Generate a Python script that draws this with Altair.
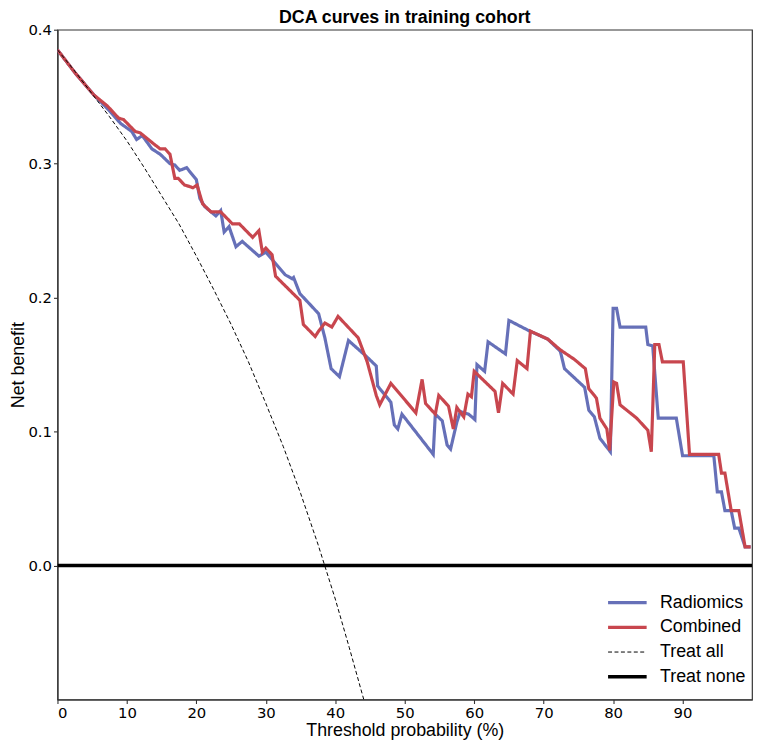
import altair as alt
import pandas as pd

# ---- data ----
series_order = ["Radiomics", "Combined", "Treat all", "Treat none"]

rad_x = [0, 2.5, 5.3, 7.4, 9.1, 10.7, 11.4, 12.2, 13.6, 14.8,
         16.2, 16.9, 17.6, 18.6, 20.0, 20.5, 21.2, 22.8, 23.5, 24.0,
         24.7, 25.7, 26.6, 29.0, 30.0, 32.8, 33.8, 34.0, 34.9, 37.6,
         38.5, 39.4, 40.6, 41.9, 44.5, 45.9, 46.1, 48.0, 48.5, 49.0,
         49.6, 54.1, 54.4, 55.4, 56.1, 56.6, 57.5, 58.0, 59.2, 60.1,
         60.4, 61.5, 62.0, 64.5, 65.0, 68.0, 70.6, 72.4, 73.0, 75.9,
         76.5, 77.3, 78.1, 79.6, 80.0, 80.5, 81.0, 84.7, 85.0, 85.7,
         86.5, 89.1, 90.0, 94.5, 95.0, 95.6, 96.1, 97.0, 97.5, 98.1,
         99.0, 99.8]
rad_y = [0.385, 0.368, 0.351, 0.340, 0.330, 0.324, 0.318, 0.321, 0.311, 0.307,
         0.300, 0.299, 0.295, 0.297, 0.288, 0.274, 0.268, 0.261, 0.265, 0.249,
         0.253, 0.238, 0.242, 0.231, 0.234, 0.217, 0.214, 0.215, 0.203, 0.188,
         0.170, 0.147, 0.141, 0.168, 0.156, 0.149, 0.134, 0.122, 0.105, 0.102,
         0.113, 0.083, 0.113, 0.108, 0.090, 0.087, 0.107, 0.115, 0.113, 0.109,
         0.150, 0.145, 0.167, 0.158, 0.183, 0.175, 0.169, 0.160, 0.147, 0.133,
         0.116, 0.111, 0.095, 0.085, 0.192, 0.192, 0.178, 0.178, 0.165, 0.164,
         0.110, 0.110, 0.082, 0.082, 0.055, 0.055, 0.041, 0.041, 0.028, 0.028,
         0.014, 0.014]

com_x = [0, 2.5, 5.3, 7.2, 8.8, 9.5, 11.2, 11.9, 13.8, 14.8,
         15.5, 16.2, 16.9, 17.4, 18.3, 19.0, 19.5, 20.1, 20.9, 22.1,
         23.5, 25.2, 26.2, 28.1, 29.0, 29.5, 30.0, 30.9, 31.4, 34.9,
         35.4, 37.1, 37.6, 38.5, 39.5, 40.4, 43.3, 44.6, 45.9, 46.4,
         47.1, 48.0, 51.6, 52.5, 53.0, 54.4, 54.9, 56.3, 57.0, 57.5,
         58.5, 59.1, 59.6, 60.0, 63.0, 63.5, 64.1, 65.6, 66.2, 67.6,
         68.1, 70.6, 72.4, 74.4, 76.0, 76.5, 77.6, 78.1, 79.1, 79.5,
         80.1, 80.5, 81.0, 83.4, 85.0, 85.5, 86.0, 86.6, 87.1, 90.1,
         91.0, 95.2, 95.6, 96.1, 97.0, 98.1, 99.0, 99.8]
com_y = [0.385, 0.368, 0.351, 0.343, 0.334, 0.333, 0.324, 0.323, 0.315, 0.311,
         0.311, 0.307, 0.289, 0.289, 0.284, 0.283, 0.282, 0.284, 0.270, 0.264,
         0.264, 0.255, 0.255, 0.245, 0.250, 0.234, 0.237, 0.232, 0.216, 0.198,
         0.180, 0.171, 0.175, 0.181, 0.178, 0.186, 0.170, 0.152, 0.127, 0.120,
         0.127, 0.136, 0.114, 0.139, 0.121, 0.113, 0.127, 0.119, 0.102, 0.118,
         0.111, 0.128, 0.126, 0.145, 0.130, 0.114, 0.136, 0.128, 0.153, 0.147,
         0.175, 0.169, 0.161, 0.154, 0.147, 0.132, 0.125, 0.110, 0.102, 0.086,
         0.137, 0.136, 0.120, 0.110, 0.101, 0.085, 0.165, 0.165, 0.152, 0.152,
         0.083, 0.083, 0.069, 0.069, 0.041, 0.041, 0.014, 0.014]

ta_x = [0, 2.5, 5, 7.5, 10, 12.5, 15, 17.5, 20, 22.5,
        25, 27.5, 30, 32.5, 35, 37.5, 40, 42, 44.1]
ta_y = [0.385, 0.369, 0.352, 0.335, 0.317, 0.297, 0.276, 0.255, 0.231, 0.206,
        0.180, 0.152, 0.121, 0.089, 0.054, 0.016, -0.025, -0.061, -0.100]

tn_x = [0, 100]
tn_y = [0.0, 0.0]

x_ticks = [0, 10, 20, 30, 40, 50, 60, 70, 80, 90]
y_ticks = [0.0, 0.1, 0.2, 0.3, 0.4]

# ---- build table ----
frames = []
for name, xs, ys in [("Radiomics", rad_x, rad_y), ("Combined", com_x, com_y),
                     ("Treat all", ta_x, ta_y), ("Treat none", tn_x, tn_y)]:
    frames.append(pd.DataFrame({"x": xs, "y": ys, "series": name, "idx": range(len(xs))}))
df = pd.concat(frames, ignore_index=True)

colors = ["#6670b8", "#c8464e", "#000000", "#000000"]
dashes = [[1, 0], [1, 0], [4, 2.5], [1, 0]]
widths = [3.2, 3.2, 1.0, 3.6]

legend_kw = dict(title=None, orient="none", legendX=567, legendY=570, padding=0,
                 symbolType="M-4,0H4", symbolSize=95, labelFont="Liberation Sans",
                 labelFontSize=18, labelColor="black", labelOffset=24, rowPadding=7)

base = alt.Chart(df).mark_line(clip=True).encode(
    x=alt.X("x:Q", scale=alt.Scale(domain=[0, 100], nice=False, zero=False),
            axis=alt.Axis(values=x_ticks, title="Threshold probability (%)",
                          labelPadding=2, titlePadding=1)),
    y=alt.Y("y:Q", scale=alt.Scale(domain=[-0.1, 0.4], nice=False, zero=False),
            axis=alt.Axis(values=y_ticks, format=".1f", title="Net benefit",
                          labelPadding=2, titlePadding=0)),
    color=alt.Color("series:N", scale=alt.Scale(domain=series_order, range=colors),
                    legend=alt.Legend(**legend_kw)),
    strokeDash=alt.StrokeDash("series:N", scale=alt.Scale(domain=series_order, range=dashes),
                              legend=alt.Legend(**legend_kw)),
    strokeWidth=alt.StrokeWidth("series:N",
                                scale=alt.Scale(type="ordinal", domain=series_order, range=widths),
                                legend=alt.Legend(**legend_kw)),
    order="idx:Q",
)

layers = [base.transform_filter(alt.datum.series == s) for s in series_order]

chart = alt.layer(*layers).properties(
    width=702, height=677,
    title=alt.TitleParams("DCA curves in training cohort", font="Liberation Sans",
                          fontSize=18, fontWeight="bold", anchor="middle",
                          offset=1, dy=5, color="black"),
    autosize=alt.AutoSizeParams(type="none"),
    padding={"left": 50, "top": 18, "right": 2, "bottom": 40},
).configure_view(
    stroke="#333333", strokeWidth=1.2
).configure_axis(
    grid=False, domainColor="#333333", domainWidth=1.2, tickColor="#333333",
    tickSize=4, tickWidth=1.1, labelFont="DejaVu Sans", labelFontSize=15,
    labelColor="black", titleFont="Liberation Sans", titleFontSize=18,
    titleFontWeight="normal", titleColor="black"
)

chart.save("out.html", embed_options={"renderer": "svg", "actions": False})
